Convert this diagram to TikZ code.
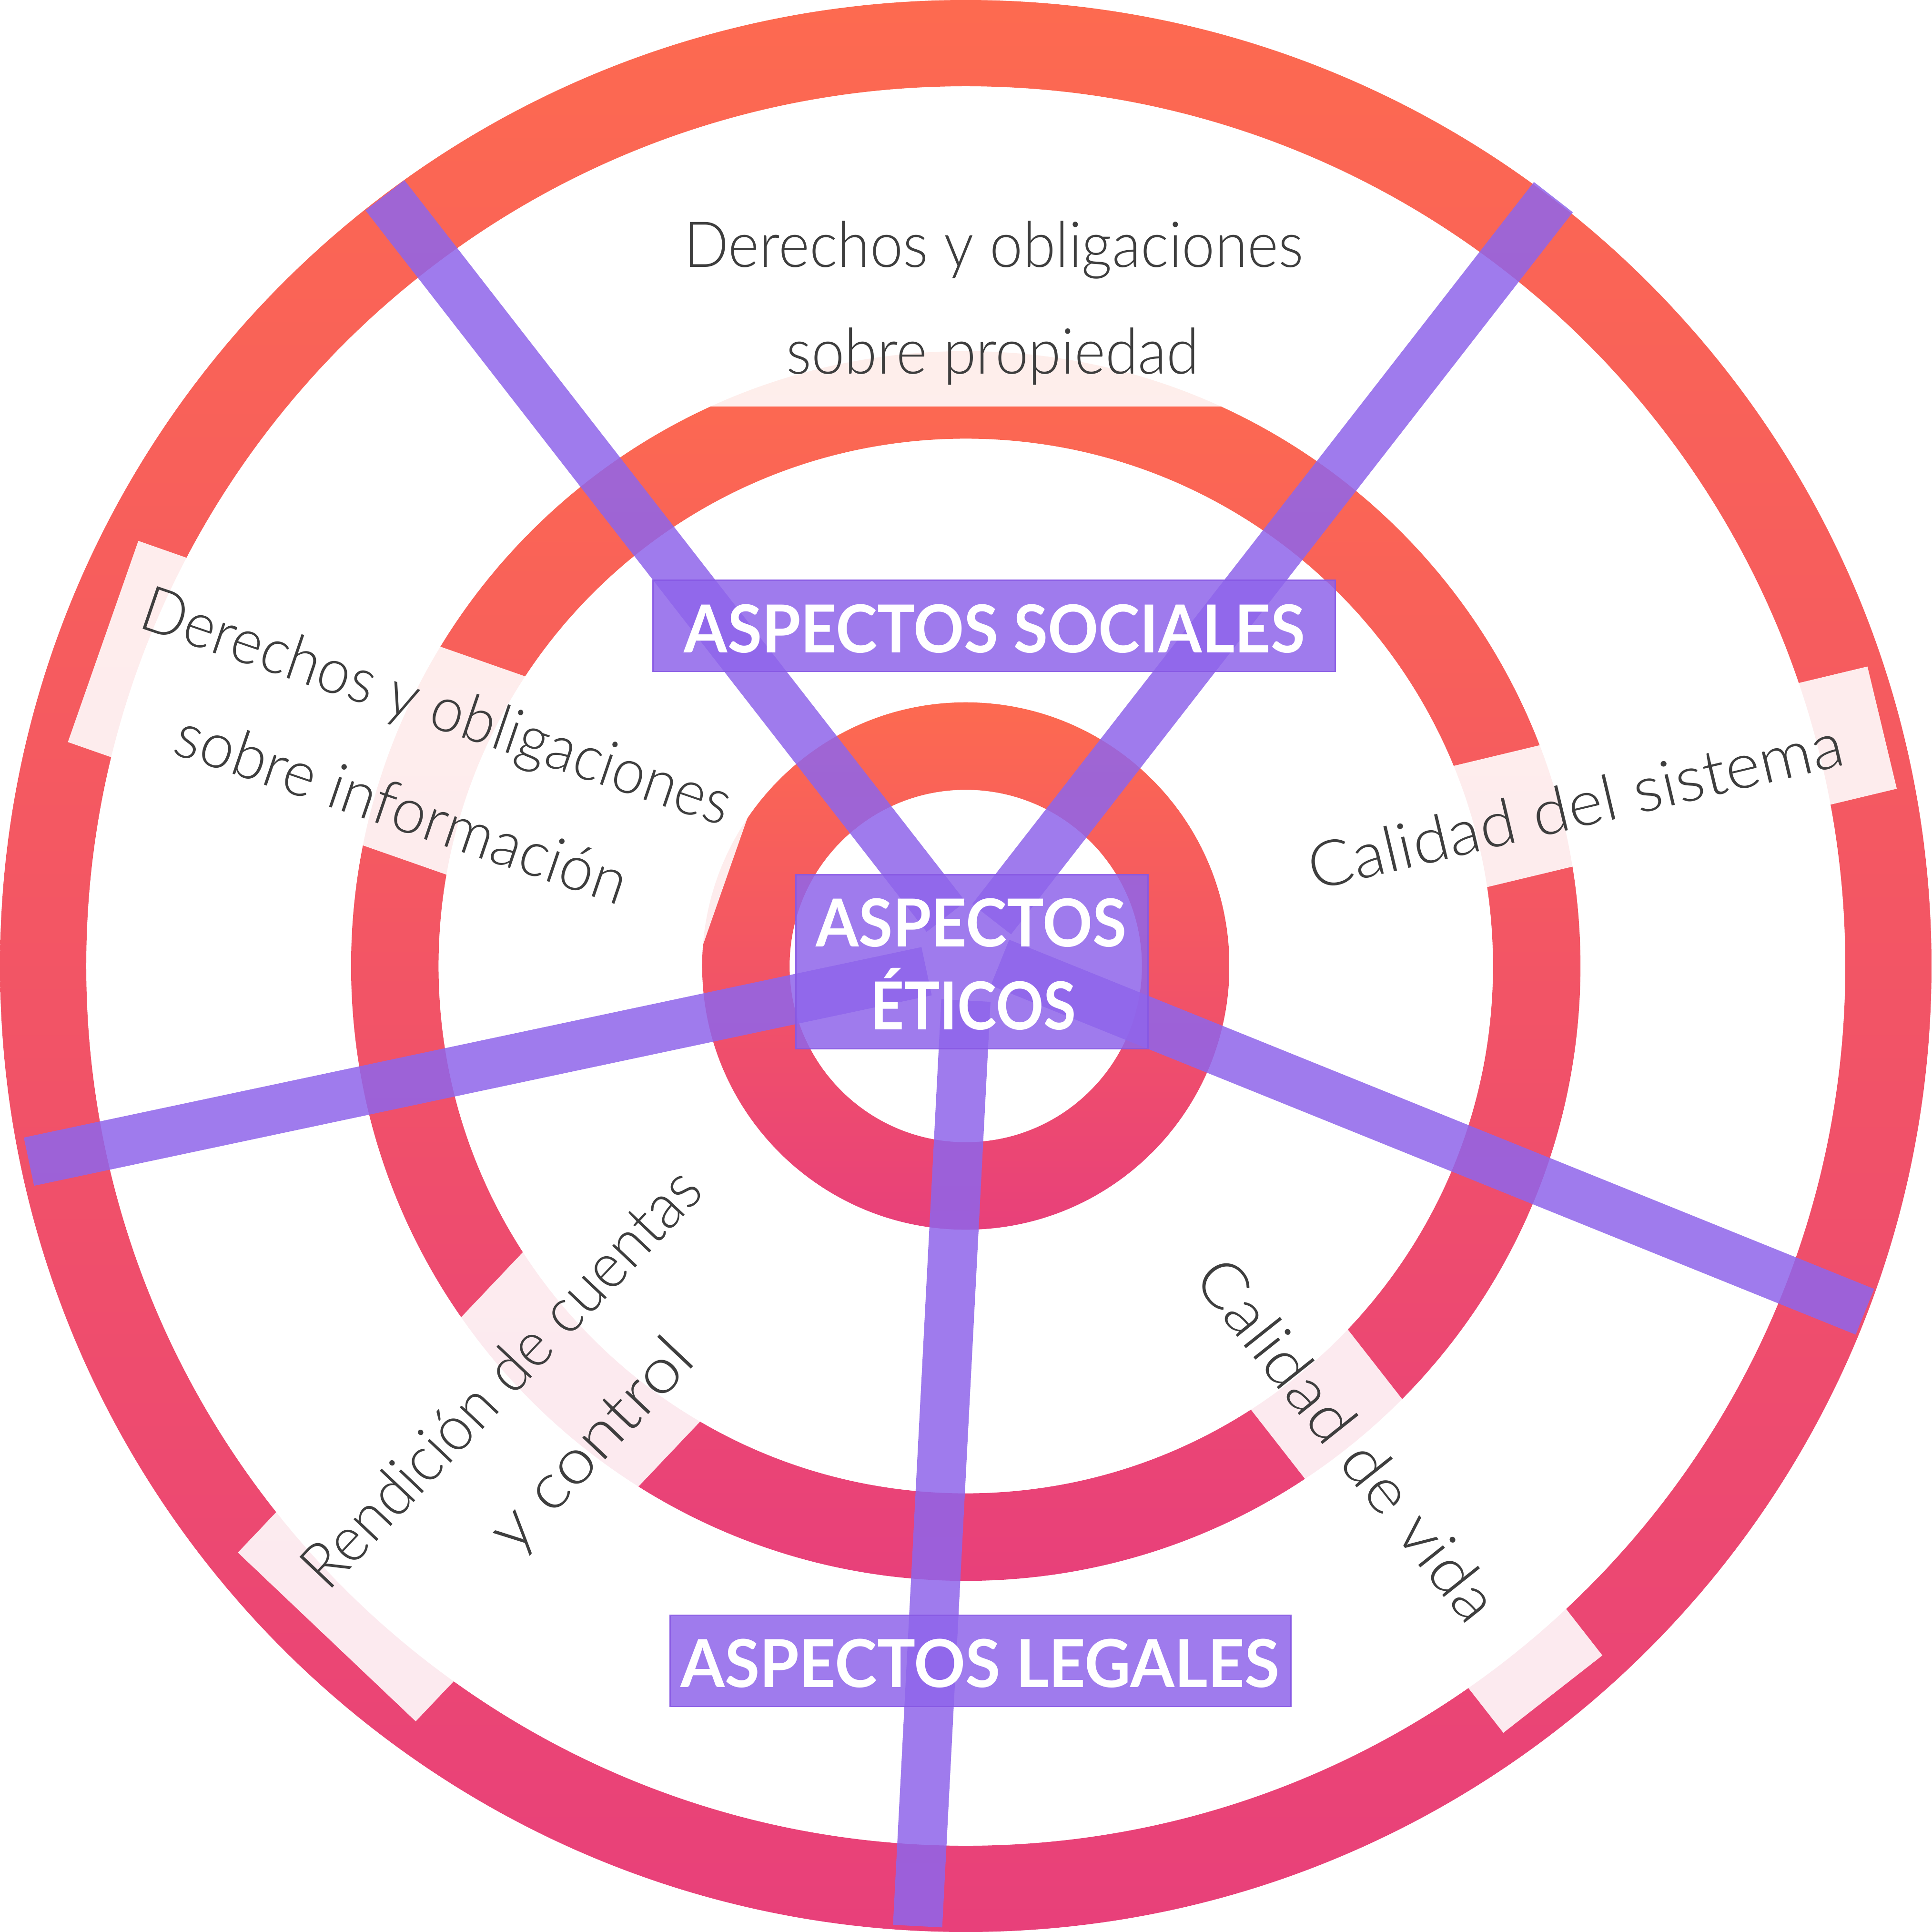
\documentclass[tikz,border=0pt]{standalone}
\usepackage{fontspec}
\usepackage{graphicx}
\newfontfamily\thinfont{Lato Light}
\newfontfamily\labfont{Lato}
\definecolor{ringtop}{RGB}{253,106,80}
\definecolor{ringbot}{RGB}{232,64,122}
\definecolor{spokec}{RGB}{143,101,235}
\definecolor{boxedge}{RGB}{135,88,228}
\definecolor{txtgrey}{RGB}{62,62,62}
\newcommand\thinsize{\thinfont\fontsize{51.5pt}{60pt}\selectfont}
\newcommand\labsize{\labfont\bfseries\fontsize{53.7pt}{60pt}\selectfont}
\newcommand\fitto[2]{\resizebox{#1pt}{\height}{#2}}
\tikzset{
  ringfill/.style={top color=ringtop, bottom color=ringbot, even odd rule},
  maskbox/.style={rectangle, fill=white, fill opacity=0.89, draw=none, inner sep=0pt, outer sep=0pt},
  spoke/.style={draw=spokec, draw opacity=0.85, line width=40pt, line cap=butt},
  aspbox/.style={rectangle, fill=spokec, fill opacity=0.85, draw=boxedge, draw opacity=0.9, line width=1pt, inner sep=0pt},
  thintext/.style={text=txtgrey, font=\thinsize, inner sep=0pt, anchor=base},
  labtext/.style={text=white, font=\labsize, inner sep=0pt, anchor=base},
}
\begin{document}
\begin{tikzpicture}[x=1pt,y=-1pt]
\fill[white] (0,0) rectangle (1568,1568);
\useasboundingbox (0,0) rectangle (1568,1568);

% rings
\path[ringfill] (784,784) circle[radius=784pt] (784,784) circle[radius=714pt];
\path[ringfill] (784,784) circle[radius=499pt] (784,784) circle[radius=428pt];
\path[ringfill] (784,784) circle[radius=214pt] (784,784) circle[radius=143pt];

% translucent white masks behind the texts
\node[maskbox, minimum width=541pt, minimum height=175pt] (mtop) at (806.5,242.5) {};
\node[maskbox, minimum width=541pt, minimum height=173pt, rotate=-19.3] (mleft) at (339,610) {};
\node[maskbox, minimum width=507pt, minimum height=102pt, rotate=13.5] (mright) at (1281.4,649.7) {};
\node[maskbox, minimum width=534pt, minimum height=102pt, rotate=-52] (mbr) at (1096.2,1164.5) {};
\node[maskbox, minimum width=514pt, minimum height=199pt, rotate=46.5] (mbl) at (442.2,1142.1) {};

% thin texts
\node[thintext] (t1) at (806.6,216.6) {\fitto{503}{Derechos y obligaciones}};
\node[thintext] (t2) at (805.9,303.6) {\fitto{335}{sobre propiedad}};
\node[thintext, rotate=-18.8] (t3) at (348.9,589.7) {\fitto{502}{Derechos y obligaciones}};
\node[thintext, rotate=-18.8] (t4) at (320.5,673.0) {\fitto{384}{sobre información}};
\node[thintext, rotate=13.3] (t5) at (1283,671.5) {\fitto{445}{Calidad del sistema}};
\node[thintext, rotate=46.6] (t6) at (419.6,1130.5) {\fitto{446}{Rendición de cuentas}};
\node[thintext, rotate=46.6] (t7) at (492,1184) {\fitto{216}{y control}};
\node[thintext, rotate=-51.5, anchor=center] (t8) at (1094,1168) {\fitto{360}{Calidad de vida}};

% spokes
\coordinate (a0) at (768,744);   \coordinate (a1) at (312.5,158.5);
\coordinate (b0) at (805,746);   \coordinate (b1) at (1261,160);
\coordinate (c0) at (752.2,788.2); \coordinate (c1) at (23.5,942.8);
\coordinate (d0) at (811.8,781.2); \coordinate (d1) at (1513.9,1064.6);
\coordinate (e0) at (784.1,812); \coordinate (e1) at (744.9,1563.2);
\draw[spoke] (a0) -- (a1);
\draw[spoke] (b0) -- (b1);
\draw[spoke] (c0) -- (c1);
\draw[spoke] (d0) -- (d1);
\draw[spoke] (e0) -- (e1);

% label boxes
\node[aspbox, minimum width=554pt, minimum height=74pt] (bsoc) at (807,508) {};
\node[aspbox, minimum width=286pt, minimum height=141pt] (beti) at (789,780.5) {};
\node[aspbox, minimum width=504pt, minimum height=74pt] (bleg) at (796,1348) {};

% label texts
\node[labtext] (lsoc) at (807.3,529.7) {\resizebox{504pt}{\height}{ASPECTOS SOCIALES}};
\node[labtext] (leti1) at (788.4,768.4) {\resizebox{252pt}{\height}{ASPECTOS}};
\node[labtext] (leti2) at (790,835.5) {\resizebox{167pt}{\height}{ÉTICOS}};
\node[labtext] (lleg) at (795.5,1369.3) {\resizebox{486pt}{\height}{ASPECTOS LEGALES}};
\end{tikzpicture}
\end{document}
